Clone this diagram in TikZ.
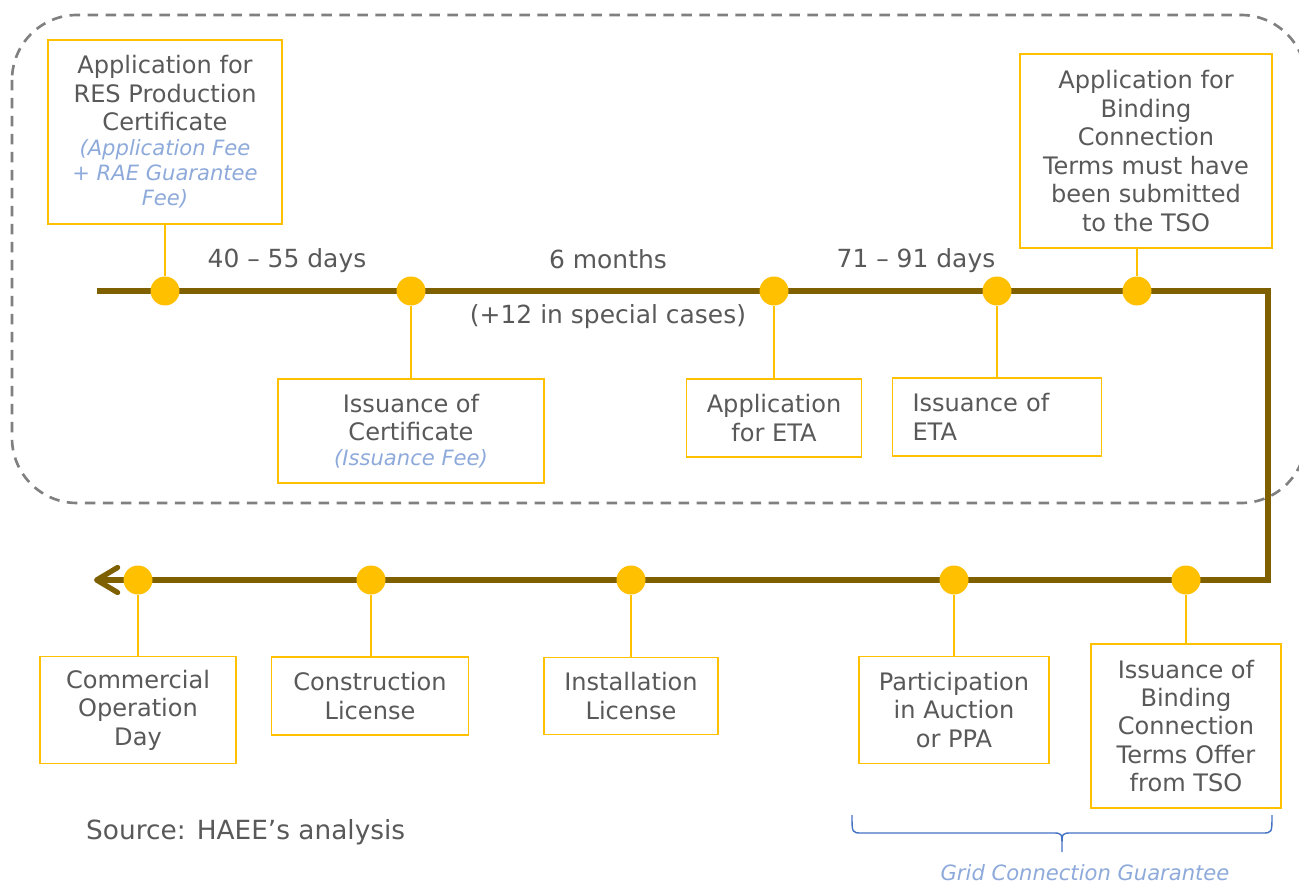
\documentclass[tikz,border=0pt]{standalone}
\usepackage{fontspec}
\setmainfont{DejaVu Sans}
\usetikzlibrary{arrows.meta,positioning,decorations.pathreplacing}
\definecolor{gold}{HTML}{FFC000}
\definecolor{olivebrown}{HTML}{7F6000}
\definecolor{txtgray}{HTML}{595959}
\definecolor{feeblue}{HTML}{8EAADB}
\definecolor{braceblue}{HTML}{4472C4}
\definecolor{dashgray}{HTML}{808080}
\newcommand{\mainfnt}{\fontsize{13.7}{16.2}\selectfont}
\newcommand{\fee}[1]{{\fontsize{12}{13.6}\selectfont\itshape\color{feeblue}#1}}
\tikzset{
    stepbox/.style={draw=gold, line width=1pt, fill=white, align=center, text=txtgray, font=\mainfnt, inner sep=2pt},
    stepdot/.style={circle, fill=gold, minimum size=0.58cm, inner sep=0pt},
    stem/.style={draw=gold, line width=0.8pt},
    timeline/.style={draw=olivebrown, line width=3pt},
    lbl/.style={text=txtgray, font=\fontsize{14.2}{17}\selectfont}
}

\begin{document}
\begin{tikzpicture}[x=0.02cm, y=-0.02cm]
    \fill[white] (0,0) rectangle (1299,885);
    \useasboundingbox (0,0) rectangle (1299,885);

    % Frame
    \draw[dashgray, line width=1.5pt, dash pattern=on 0.21cm off 0.15cm, rounded corners=1.3cm] (12,15) rectangle (1306,503);

    % Timeline
    \coordinate (tlstart) at (97,291);
    \coordinate (tlturn1) at (1268,291);
    \coordinate (tlturn2) at (1268,580);
    \coordinate (tlend) at (94,580);
    \draw[timeline, -{Straight Barb[length=0.42cm, width=0.5cm, round]}] (tlstart) -- (tlturn1) -- (tlturn2) -- (tlend);

    % Steps above the timeline
    \node[stepbox, minimum width=4.68cm, minimum height=3.68cm] (res) at (165,132)
        {Application for\\RES Production\\Certificate\\[-2pt]\fee{(Application Fee}\\[-2pt]\fee{+ RAE Guarantee}\\[-2pt]\fee{Fee)}};
    \node[stepbox, minimum width=5.04cm, minimum height=3.88cm] (bind) at (1146,151)
        {Application for\\Binding\\Connection\\Terms must have\\been submitted\\to the TSO};

    % Steps below the upper timeline
    \node[stepbox, minimum width=5.32cm, minimum height=2.08cm] (cert) at (411,431)
        {Issuance of\\Certificate\\[-2pt]\fee{(Issuance Fee)}};
    \node[stepbox, minimum width=3.5cm, minimum height=1.56cm] (appeta) at (774,418)
        {Application\\for ETA};
    \node[stepbox, align=left, text width=3.38cm, inner xsep=0.4cm, minimum height=1.56cm] (isseta) at (997,417)
        {Issuance of\\ETA};

    % Steps below the lower timeline
    \node[stepbox, minimum width=3.92cm, minimum height=2.14cm] (cod) at (138,710)
        {Commercial\\Operation\\Day};
    \node[stepbox, minimum width=3.94cm, minimum height=1.56cm] (cons) at (370,696)
        {Construction\\License};
    \node[stepbox, minimum width=3.48cm, minimum height=1.54cm] (inst) at (631,696)
        {Installation\\License};
    \node[stepbox, minimum width=3.8cm, minimum height=2.14cm] (auct) at (954,710)
        {Participation\\in Auction\\or PPA};
    \node[stepbox, minimum width=3.8cm, minimum height=3.28cm] (offer) at (1186,726)
        {Issuance of\\Binding\\Connection\\Terms Offer\\from TSO};

    % Dots
    \foreach \n/\x in {1/165,2/411,3/774,4/997,5/1137} {
        \node[stepdot] (top\n) at (\x,291) {};
    }
    \foreach \n/\x in {1/138,2/371,3/631,4/954,5/1186} {
        \node[stepdot] (bot\n) at (\x,580) {};
    }

    % Stems
    \draw[stem] (top1) -- (top1 |- res.south);
    \draw[stem] (top5) -- (top5 |- bind.south);
    \foreach \n/\b in {2/cert,3/appeta,4/isseta} {
        \draw[stem] (top\n) -- (top\n |- \b.north);
    }
    \foreach \n/\b in {1/cod,2/cons,3/inst,4/auct,5/offer} {
        \draw[stem] (bot\n) -- (bot\n |- \b.north);
    }

    % Durations
    \node[lbl] (dur1) at (287,261) {40 -- 55 days};
    \node[lbl] (dur2) at (608,259) {6 months};
    \node[lbl] (dur2b) at (608,317) {(+12 in special cases)};
    \node[lbl] (dur3) at (916,261) {71 -- 91 days};

    % Source and guarantee
    \node[lbl, anchor=west, font=\fontsize{15}{18}\selectfont] (source) at (80,832) {Source: HAEE’s analysis};
    \coordinate (brl) at (852,815);
    \coordinate (brtip) at (1062,852);
    \coordinate (brr) at (1272,815);
    \draw[braceblue, line width=0.8pt]
        (brl) .. controls (852,833) .. (862,833) -- (1052,833) .. controls (1062,833) .. (1062,846) -- (brtip)
        (1062,846) .. controls (1062,833) .. (1072,833) -- (1262,833) .. controls (1272,833) .. (brr);
    \node[text=feeblue, font=\fontsize{12}{13.6}\selectfont\itshape] (grid) at (1085,873) {Grid Connection Guarantee};
\end{tikzpicture}
\end{document}
